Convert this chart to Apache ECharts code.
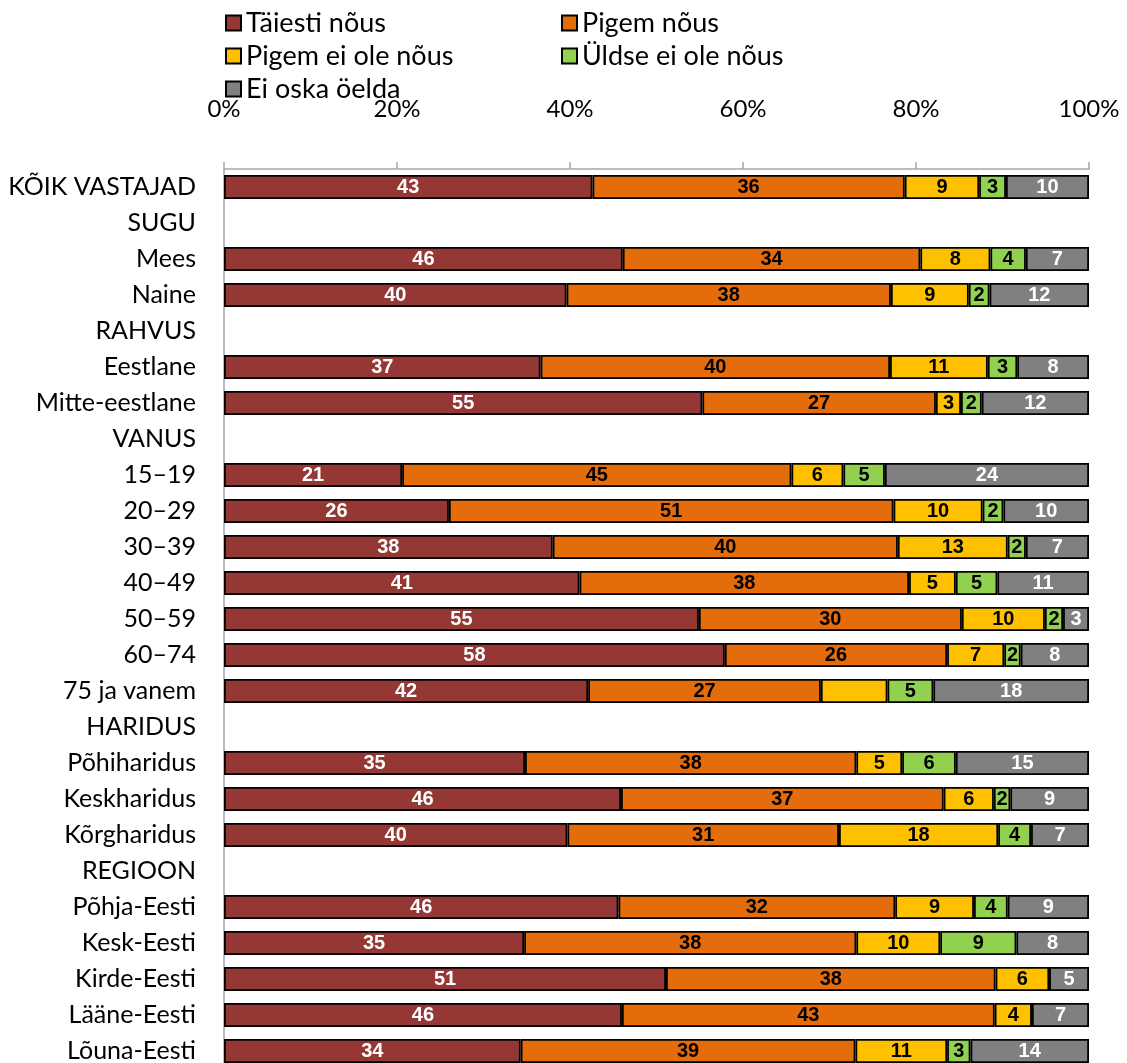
<!DOCTYPE html>
<html>
<head>
<meta charset="utf-8">
<script src="https://cdn.jsdelivr.net/npm/echarts@6/dist/echarts.min.js"></script>
<style>html,body{margin:0;padding:0;background:#fff}#c{width:1127px;height:1063px}</style>
</head>
<body>
<div id="c"></div>
<script>
const categories = ['KÕIK VASTAJAD','SUGU','Mees','Naine','RAHVUS','Eestlane','Mitte-eestlane','VANUS','15–19','20–29','30–39','40–49','50–59','60–74','75 ja vanem','HARIDUS','Põhiharidus','Keskharidus','Kõrgharidus','REGIOON','Põhja-Eesti','Kesk-Eesti','Kirde-Eesti','Lääne-Eesti','Lõuna-Eesti'];
const seriesNames = ['Täiesti nõus','Pigem nõus','Pigem ei ole nõus','Üldse ei ole nõus','Ei oska öelda'];
const taiestiNous   = [42.6,null,46.1,39.6,null,36.6,55.3,null,20.6,26.0,38.0,41.1,54.9,57.9,42.1,null,34.8,45.9,39.7,null,45.6,34.7,51.1,46.0,34.3];
const pigemNous     = [36.1,null,34.4,37.5,null,40.4,27.0,null,45.0,51.4,39.9,38.1,30.4,25.7,26.9,null,38.3,37.3,31.4,null,32.0,38.4,38.1,43.1,38.7];
const pigemEiNous   = [8.6,null,8.1,9.0,null,11.3,2.9,null,6.0,10.3,12.7,5.4,9.6,6.6,7.7,null,5.3,5.8,18.4,null,9.1,9.7,6.2,4.3,10.6];
const yldseEiNous   = [3.1,null,4.1,2.4,null,3.4,2.4,null,4.8,2.4,2.1,4.8,2.1,1.9,5.3,null,6.2,1.9,3.8,null,3.9,8.8,0,0,2.7];
const eiOskaOelda   = [9.6,null,7.3,11.5,null,8.3,12.4,null,23.6,9.9,7.3,10.6,3.0,7.9,18.0,null,15.4,9.1,6.7,null,9.4,8.4,4.6,6.6,13.7];
const xTickLabels = ['0%','20%','40%','60%','80%','100%'];
const hiddenLabels = [['75 ja vanem','Pigem ei ole nõus']];

const seriesData = [taiestiNous, pigemNous, pigemEiNous, yldseEiNous, eiOskaOelda];
const colors = ['#953735','#E46C0A','#FFC000','#92D050','#808080'];
const labelColors = ['#ffffff','#000000','#000000','#000000','#ffffff'];
const catFont = 'Lato';

const legendText = {fontFamily: catFont, fontSize: 27, color: '#000', lineHeight: 28};
const chart = echarts.init(document.getElementById('c'));
chart.setOption({
  animation: false,
  textStyle: {fontFamily: catFont},
  legend: [
    {left: 220, top: 4, orient: 'vertical', icon: 'rect', itemWidth: 15, itemHeight: 15, itemGap: 5,
     data: [seriesNames[0], seriesNames[2], seriesNames[4]], textStyle: legendText},
    {left: 556, top: 4, orient: 'vertical', icon: 'rect', itemWidth: 15, itemHeight: 15, itemGap: 5,
     data: [seriesNames[1], seriesNames[3]], textStyle: legendText}
  ],
  grid: {left: 224, right: 38, top: 169, height: 900, containLabel: false, outerBoundsMode: 'none'},
  xAxis: {
    type: 'value', position: 'top', min: 0, max: 100, interval: 20,
    axisLine: {show: true, lineStyle: {color: '#A6A6A6', width: 1.5}},
    axisTick: {show: true, length: 7, lineStyle: {color: '#A6A6A6', width: 1.5}},
    splitLine: {show: false},
    axisLabel: {margin: 48, fontSize: 24, color: '#000', fontFamily: catFont,
      formatter: (v) => xTickLabels[Math.round(v / 20)]}
  },
  yAxis: {
    type: 'category', inverse: true, data: categories,
    axisLine: {show: true, lineStyle: {color: '#A6A6A6', width: 1.5}},
    axisTick: {show: false},
    axisLabel: {margin: 28, fontSize: 25, color: '#000', fontFamily: catFont}
  },
  series: seriesNames.map((name, i) => ({
    name, type: 'bar', stack: 'total', barWidth: 24,
    data: seriesData[i],
    itemStyle: {color: colors[i], borderColor: '#000', borderWidth: 1.8},
    label: {
      show: true, position: 'inside', color: labelColors[i],
      fontFamily: 'Liberation Sans', fontWeight: 'bold', fontSize: 20,
      formatter: (p) => {
        if (p.value == null || p.value === 0) return '';
        if (hiddenLabels.some(h => h[0] === p.name && h[1] === name)) return '';
        return String(Math.round(p.value));
      }
    }
  }))
});
</script>
</body>
</html>
